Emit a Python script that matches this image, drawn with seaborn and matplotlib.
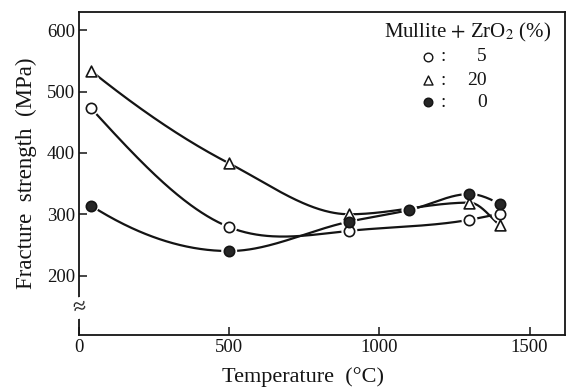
import numpy as np
import pandas as pd
import matplotlib
matplotlib.use("Agg")
import matplotlib.pyplot as plt
import seaborn as sns

# Fracture strength (MPa) of mullite-zirconia composites vs. test temperature
temps_5 = [40, 500, 900, 1300, 1400]
strength_5 = [473, 279, 273, 291, 301]

temps_20 = [40, 500, 900, 1300, 1400]
strength_20 = [534, 383, 300, 319, 282]

temps_0 = [40, 500, 900, 1100, 1300, 1400]
strength_0 = [314, 240, 288, 307, 333, 317]

x_ticks = [0, 500, 1000, 1500]
y_ticks = [200, 300, 400, 500, 600]

sns.set_style("ticks")
plt.rcParams["font.family"] = ["Liberation Serif", "DejaVu Serif"]
plt.rcParams["mathtext.fontset"] = "stix"
INK = "#141414"


def natural_spline(x, y, n=300):
    """Natural cubic spline through the measured points."""
    x = np.asarray(x, float)
    y = np.asarray(y, float)
    k = len(x)
    h = np.diff(x)
    A = np.zeros((k, k))
    b = np.zeros(k)
    A[0, 0] = A[-1, -1] = 1.0
    for i in range(1, k - 1):
        A[i, i - 1] = h[i - 1]
        A[i, i] = 2 * (h[i - 1] + h[i])
        A[i, i + 1] = h[i]
        b[i] = 3 * ((y[i + 1] - y[i]) / h[i] - (y[i] - y[i - 1]) / h[i - 1])
    c = np.linalg.solve(A, b)
    bcoef = (y[1:] - y[:-1]) / h - h * (2 * c[:-1] + c[1:]) / 3
    d = (c[1:] - c[:-1]) / (3 * h)
    xs = np.linspace(x[0], x[-1], n)
    idx = np.clip(np.searchsorted(x, xs, side="right") - 1, 0, k - 2)
    dx = xs - x[idx]
    return xs, y[idx] + bcoef[idx] * dx + c[idx] * dx ** 2 + d[idx] * dx ** 3


def pchip(x, y, n=300):
    """Shape-preserving cubic (Fritsch-Carlson) through the measured points."""
    x = np.asarray(x, float)
    y = np.asarray(y, float)
    h = np.diff(x)
    delta = np.diff(y) / h
    k = len(x)
    m = np.zeros(k)
    for i in range(1, k - 1):
        if delta[i - 1] * delta[i] > 0:
            w1 = 2 * h[i] + h[i - 1]
            w2 = h[i] + 2 * h[i - 1]
            m[i] = (w1 + w2) / (w1 / delta[i - 1] + w2 / delta[i])
    for i0, i1, j in ((0, 1, 0), (k - 1, k - 2, k - 2)):
        jn = j + 1 if j == 0 else j - 1
        hj, hn = h[j], h[jn]
        mm = ((2 * hj + hn) * delta[j] - hj * delta[jn]) / (hj + hn)
        if np.sign(mm) != np.sign(delta[j]):
            mm = 0.0
        elif np.sign(delta[j]) != np.sign(delta[jn]) and abs(mm) > abs(3 * delta[j]):
            mm = 3 * delta[j]
        m[i0] = mm
    xs = np.linspace(x[0], x[-1], n)
    idx = np.clip(np.searchsorted(x, xs, side="right") - 1, 0, k - 2)
    t = (xs - x[idx]) / h[idx]
    h00 = 2 * t ** 3 - 3 * t ** 2 + 1
    h10 = t ** 3 - 2 * t ** 2 + t
    h01 = -2 * t ** 3 + 3 * t ** 2
    h11 = t ** 3 - t ** 2
    ys = (h00 * y[idx] + h10 * h[idx] * m[idx]
          + h01 * y[idx + 1] + h11 * h[idx] * m[idx + 1])
    return xs, ys


series = {
    "5": (temps_5, strength_5, natural_spline),
    "20": (temps_20, strength_20, pchip),
    "0": (temps_0, strength_0, pchip),
}

curve_frames = []
for name, (t, s, smoother) in series.items():
    xs, ys = smoother(t, s)
    curve_frames.append(pd.DataFrame({"temp": xs, "strength": ys, "series": name}))
curves = pd.concat(curve_frames, ignore_index=True)

fig = plt.figure(figsize=(5.68, 3.89), dpi=100)
ax = fig.add_axes([79 / 568, 54 / 389, 486 / 568, 323 / 389])

sns.lineplot(data=curves, x="temp", y="strength", hue="series",
             palette={"5": INK, "20": INK, "0": INK},
             linewidth=1.6, legend=False, sort=False, ax=ax, zorder=2)

marker_style = {
    "5": dict(marker="o", facecolor="white", s=55),
    "20": dict(marker="^", facecolor="white", s=60),
    "0": dict(marker="o", facecolor="#262626", s=55),
}
for name, (t, s, _) in series.items():
    st = marker_style[name]
    # white halo leaves a small gap between each curve and its symbols
    sns.scatterplot(x=t, y=s, marker=st["marker"], s=st["s"] * 2.4,
                    color="white", edgecolor="none", linewidth=0, ax=ax,
                    zorder=3, legend=False)
for name, (t, s, _) in series.items():
    st = marker_style[name]
    sns.scatterplot(x=t, y=s, marker=st["marker"], s=st["s"],
                    facecolor=st["facecolor"], edgecolor=INK,
                    linewidth=1.2, ax=ax, zorder=4, legend=False)

ax.set_xlim(0, 1618)
ax.set_ylim(103, 630)
ax.set_xticks(x_ticks)
ax.set_yticks(y_ticks)
ax.tick_params(direction="in", length=6, width=1.1, labelsize=13.5,
               colors=INK, pad=3)
for sp in ax.spines.values():
    sp.set_linewidth(1.3)
    sp.set_color(INK)

ax.set_xlabel("Temperature  (°C)", fontsize=16, color=INK, va="center")
ax.set_ylabel("Fracture  strength  (MPa)", fontsize=16.5, color=INK,
              va="center")
ax.xaxis.set_label_coords((303.5 - 79) / 486, (335 - 377) / 323)
ax.yaxis.set_label_coords((26 - 79) / 486, (335 - 173) / 323)

# axis break on the strength scale
ax.text(0, 147, "≈", fontsize=17, ha="center", va="center", rotation=10,
        color=INK, clip_on=False, zorder=5,
        bbox=dict(facecolor="white", edgecolor="none", pad=0.1))

# key
ax.text(0.800, 0.938, r"Mullite $+$ ZrO$_2$ (%)", transform=ax.transAxes,
        ha="center", va="center", fontsize=15, color=INK)
rows = [("5", 0.861), ("20", 0.789), ("0", 0.721)]
for name, yy in rows:
    st = marker_style[name]
    ax.scatter([0.718], [yy], transform=ax.transAxes, marker=st["marker"],
               s=st["s"] * 0.7, facecolor=st["facecolor"], edgecolor=INK,
               linewidth=1.0, clip_on=False)
    ax.text(0.749, yy, ":", transform=ax.transAxes, ha="center",
            va="center", fontsize=14, color=INK)
    ax.text(0.839, yy, name, transform=ax.transAxes, ha="right",
            va="center", fontsize=14, color=INK)

fig.savefig("out.png", dpi=100, facecolor="white")
